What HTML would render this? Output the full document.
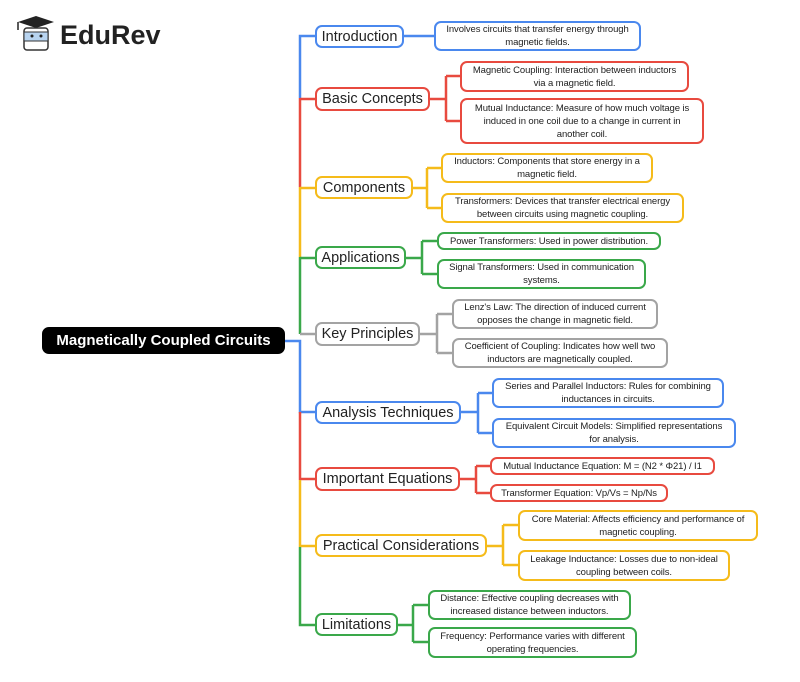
<!DOCTYPE html>
<html><head><meta charset="utf-8"><style>
body{margin:0;width:800px;height:682px;background:#fff;position:relative;overflow:hidden;font-family:"Liberation Sans",sans-serif;}
.n{position:absolute;box-sizing:border-box;border:2px solid;border-radius:7px;background:#fff;display:flex;align-items:center;justify-content:center;text-align:center;color:#222;white-space:nowrap;}
.m{font-size:14.5px;padding:0;}
.c{font-size:9.5px;line-height:13px;padding:0;letter-spacing:-0.1px;}
.b{border-color:#4a88ee}.r{border-color:#e84a3f}.y{border-color:#f5bb1a}.g{border-color:#3aa84a}.k{border-color:#a3a3a3}
</style></head><body>
<svg width="800" height="682" style="position:absolute;left:0;top:0" fill="none" stroke-width="2.5">
<g stroke="#4a88ee"><path d="M300 98V36H315"/><path d="M285 341H300V412H315"/><path d="M404 36H434"/><path d="M461 412H478M478 393V433M478 393H492M478 433H492"/></g>
<g stroke="#e84a3f"><path d="M300 98V187M300 99H315"/><path d="M300 412V480M300 479H315"/><path d="M430 99H446M446 76V121M446 76H460M446 121H460"/><path d="M460 479H476M476 466V493M476 466H490M476 493H490"/></g>
<g stroke="#f5bb1a"><path d="M300 187V257M300 188H315"/><path d="M300 480V547M300 546H315"/><path d="M413 188H427M427 168V208M427 168H441M427 208H441"/><path d="M487 546H503M503 525V565M503 525H518M503 565H518"/></g>
<g stroke="#3aa84a"><path d="M300 257V334M300 258H315"/><path d="M300 547V625H315"/><path d="M406 258H422M422 241V274M422 241H437M422 274H437"/><path d="M398 625H413M413 605V642M413 605H428M413 642H428"/></g>
<g stroke="#a3a3a3"><path d="M300 334H315"/><path d="M420 334H437M437 314V353M437 314H452M437 353H452"/></g>
</svg>
<svg style="position:absolute;left:14px;top:14px" width="44" height="40">
<path d="M4 8L22 2L40 8L22 14Z" fill="#222"/><path d="M4 8V16" stroke="#222" stroke-width="1.5"/>
<rect x="10" y="14" width="24" height="22" rx="3" fill="#fff" stroke="#333" stroke-width="1.5"/>
<rect x="10" y="18" width="24" height="9" fill="#b8d4f0" stroke="#333" stroke-width="1"/>
<circle cx="18" cy="22" r="1.5" fill="#222"/><circle cx="27" cy="22" r="1.5" fill="#222"/>
</svg>
<div style="position:absolute;left:60px;top:20px;font-size:27px;font-weight:bold;color:#222;">EduRev</div>
<div class="n" style="left:42px;top:327px;width:243px;height:27px;background:#000;border-color:#000;color:#fff;font-weight:bold;font-size:15px;">Magnetically Coupled Circuits</div>

<div class="n m b" style="left:315px;top:25px;width:89px;height:23px">Introduction</div>
<div class="n m r" style="left:315px;top:87px;width:115px;height:24px">Basic Concepts</div>
<div class="n m y" style="left:315px;top:176px;width:98px;height:23px">Components</div>
<div class="n m g" style="left:315px;top:246px;width:91px;height:23px">Applications</div>
<div class="n m k" style="left:315px;top:322px;width:105px;height:24px">Key Principles</div>
<div class="n m b" style="left:315px;top:401px;width:146px;height:23px">Analysis Techniques</div>
<div class="n m r" style="left:315px;top:467px;width:145px;height:24px">Important Equations</div>
<div class="n m y" style="left:315px;top:534px;width:172px;height:23px">Practical Considerations</div>
<div class="n m g" style="left:315px;top:613px;width:83px;height:23px">Limitations</div>

<div class="n c b" style="left:434px;top:21px;width:207px;height:30px">Involves circuits that transfer energy through<br>magnetic fields.</div>
<div class="n c r" style="left:460px;top:61px;width:229px;height:31px">Magnetic Coupling: Interaction between inductors<br>via a magnetic field.</div>
<div class="n c r" style="left:460px;top:98px;width:244px;height:46px">Mutual Inductance: Measure of how much voltage is<br>induced in one coil due to a change in current in<br>another coil.</div>
<div class="n c y" style="left:441px;top:153px;width:212px;height:30px">Inductors: Components that store energy in a<br>magnetic field.</div>
<div class="n c y" style="left:441px;top:193px;width:243px;height:30px">Transformers: Devices that transfer electrical energy<br>between circuits using magnetic coupling.</div>
<div class="n c g" style="left:437px;top:232px;width:224px;height:18px">Power Transformers: Used in power distribution.</div>
<div class="n c g" style="left:437px;top:259px;width:209px;height:30px">Signal Transformers: Used in communication<br>systems.</div>
<div class="n c k" style="left:452px;top:299px;width:206px;height:30px">Lenz's Law: The direction of induced current<br>opposes the change in magnetic field.</div>
<div class="n c k" style="left:452px;top:338px;width:216px;height:30px">Coefficient of Coupling: Indicates how well two<br>inductors are magnetically coupled.</div>
<div class="n c b" style="left:492px;top:378px;width:232px;height:30px">Series and Parallel Inductors: Rules for combining<br>inductances in circuits.</div>
<div class="n c b" style="left:492px;top:418px;width:244px;height:30px">Equivalent Circuit Models: Simplified representations<br>for analysis.</div>
<div class="n c r" style="left:490px;top:457px;width:225px;height:18px">Mutual Inductance Equation: M = (N2 * Φ21) / I1</div>
<div class="n c r" style="left:490px;top:484px;width:178px;height:18px">Transformer Equation: Vp/Vs = Np/Ns</div>
<div class="n c y" style="left:518px;top:510px;width:240px;height:31px">Core Material: Affects efficiency and performance of<br>magnetic coupling.</div>
<div class="n c y" style="left:518px;top:550px;width:212px;height:31px">Leakage Inductance: Losses due to non-ideal<br>coupling between coils.</div>
<div class="n c g" style="left:428px;top:590px;width:203px;height:30px">Distance: Effective coupling decreases with<br>increased distance between inductors.</div>
<div class="n c g" style="left:428px;top:627px;width:209px;height:31px">Frequency: Performance varies with different<br>operating frequencies.</div>
</body></html>
